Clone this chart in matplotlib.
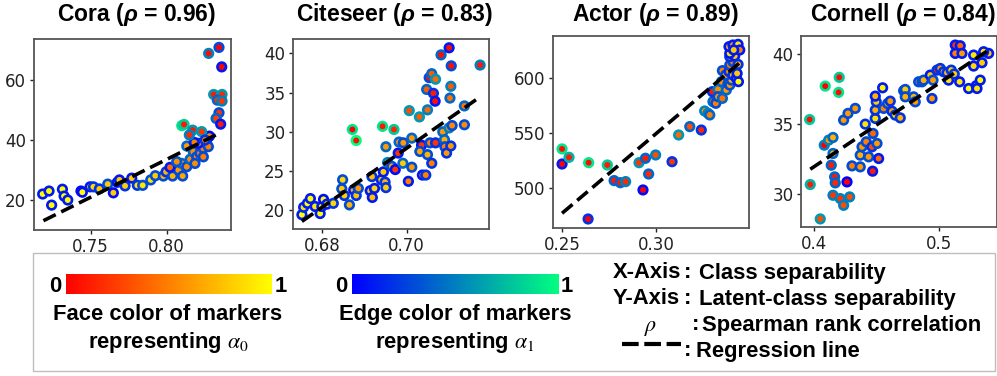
import matplotlib
matplotlib.use('Agg')
import matplotlib.pyplot as plt
import matplotlib.patches as mpatches
import matplotlib.lines as mlines
import numpy as np

plt.rcParams['mathtext.fontset'] = 'custom'
plt.rcParams['mathtext.it'] = 'Liberation Sans:bold:italic'
plt.rcParams['mathtext.rm'] = 'Liberation Sans:bold'
plt.rcParams['mathtext.bf'] = 'Liberation Sans:bold'

# ---------------- data ----------------
cora_x = [0.7184, 0.7226, 0.7243, 0.7314, 0.7325, 0.7349, 0.7436, 0.7445, 0.7496, 0.7518,
          0.7557, 0.7612, 0.7649, 0.7675, 0.7689, 0.7726, 0.7770, 0.7807, 0.7842, 0.7895,
          0.7925, 0.7978, 0.7996, 0.8039, 0.8077, 0.8105, 0.8099, 0.8132, 0.8154, 0.8175,
          0.8197, 0.8219, 0.8241, 0.8263, 0.8208, 0.8241, 0.8274, 0.8132, 0.8182, 0.8281,
          0.8099, 0.8114, 0.8171, 0.8230, 0.8149, 0.8309, 0.8364, 0.8333, 0.8364, 0.8344,
          0.8325, 0.8355, 0.8276, 0.8344, 0.8362, 0.8022, 0.8066, 0.8186, 0.8274, 0.8252]
cora_y = [22.0, 23.0, 18.3, 23.6, 21.3, 20.0, 23.0, 22.6, 24.4, 24.4,
          23.7, 25.3, 22.4, 25.9, 26.7, 24.7, 27.3, 24.9, 24.9, 26.7,
          28.1, 28.0, 29.4, 28.0, 30.0, 28.0, 32.2, 31.1, 33.6, 36.1,
          34.4, 35.6, 37.2, 38.9, 38.9, 34.4, 41.1, 38.0, 39.2, 41.3,
          44.8, 45.2, 43.3, 42.8, 41.7, 55.2, 55.2, 53.3, 53.0, 49.1,
          47.2, 45.3, 68.9, 70.9, 64.4, 30.9, 32.8, 32.2, 37.8, 40.0]
cora_a0 = [1, 1, 1, 1, 1, 1, 1, 1, 0.85, 0.85,
           0.8, 0.8, 0.8, 0.75, 0.8, 0.8, 0.8, 0.9, 0.9, 0.9,
           0.8, 0.7, 0.7, 0.7, 0.6, 0.65, 0.6, 0.55, 0.55, 0.55,
           0.5, 0.5, 0.5, 0.5, 0.5, 0.5, 0.45, 0.6, 0.5, 0.5,
           0.05, 0.1, 0.1, 0.2, 0.15, 0.1, 0.15, 0.2, 0.2, 0.2,
           0.25, 0.1, 0.05, 0.0, 0.0, 0.4, 0.55, 0.55, 0.5, 0.5]
cora_a1 = [0.1, 0.1, 0.1, 0.1, 0.1, 0.1, 0.05, 0.05, 0.1, 0.2,
           0.2, 0.3, 0.05, 0.1, 0.1, 0.2, 0.1, 0.2, 0.3, 0.3,
           0.3, 0.3, 0.2, 0.3, 0.3, 0.3, 0.4, 0.3, 0.4, 0.4,
           0.3, 0.3, 0.3, 0.2, 0.1, 0.3, 0.1, 0.4, 0.1, 0.05,
           0.9, 0.8, 0.6, 0.6, 0.5, 0.6, 0.6, 0.4, 0.5, 0.3,
           0.4, 0.1, 0.5, 0.3, 0.1, 0.1, 0.35, 0.3, 0.3, 0.2]
cora_fit_x = [0.7189, 0.8351]
cora_fit_y = [13.1, 42.4]

cite_x = [0.6753, 0.6757, 0.6766, 0.6773, 0.6784, 0.6796, 0.6800, 0.6804, 0.6812, 0.6827,
          0.6847, 0.6849, 0.6853, 0.6865, 0.6875, 0.6881, 0.6886, 0.6914, 0.6919, 0.6924,
          0.6918, 0.6940, 0.6945, 0.6949, 0.6951, 0.6955, 0.6951, 0.6965, 0.6973, 0.6980,
          0.6982, 0.6991, 0.6992, 0.7004, 0.7006, 0.7012, 0.7012, 0.7035, 0.7030, 0.7031,
          0.7037, 0.7045, 0.7047, 0.7049, 0.7049, 0.7053, 0.7059, 0.7055, 0.7059, 0.7063,
          0.7067, 0.7068, 0.7068, 0.7081, 0.7085, 0.7089, 0.7090, 0.7100, 0.7100, 0.7102,
          0.7104, 0.7105, 0.7094, 0.7104, 0.7107, 0.7136, 0.7136, 0.7173, 0.6872, 0.6881,
          0.6943, 0.6970]
cite_y = [19.45, 20.4, 20.9, 21.5, 20.5, 19.6, 20.5, 21.4, 20.8, 20.9,
          22.75, 23.9, 21.9, 20.7, 22.6, 21.9, 22.8, 22.5, 21.65, 22.8,
          24.3, 23.9, 24.9, 23.6, 22.9, 26.1, 28.1, 25.6, 25.2, 27.3,
          28.7, 26.0, 28.6, 23.7, 32.7, 25.5, 29.2, 28.3, 31.9, 27.5,
          24.5, 24.5, 35.4, 32.8, 27.1, 36.9, 37.4, 28.6, 26.0, 34.9,
          33.9, 36.7, 28.6, 39.8, 30.0, 29.0, 28.1, 40.7, 30.5, 34.3,
          35.8, 38.4, 27.3, 28.2, 30.8, 30.9, 33.3, 38.5, 30.3, 28.9,
          30.7, 30.3]
cite_a0 = [1, 0.9, 1, 1, 0.9, 1, 0.9, 1, 0.9, 0.85,
           0.8, 0.85, 0.8, 0.7, 0.7, 0.75, 0.6, 0.8, 0.75, 0.85,
           0.75, 0.8, 0.8, 0.7, 0.8, 0.7, 0.6, 0.65, 0.2, 0.2,
           0.6, 0.8, 0.6, 0.5, 0.3, 0.6, 0.6, 0.2, 0.35, 0.65,
           0.5, 0.5, 0.35, 0.4, 0.7, 0.05, 0.35, 0.5, 0.5, 0.1,
           0.05, 0.4, 0.2, 0.05, 0.6, 0.7, 0.5, 0.05, 0.6, 0.45,
           0.35, 0.05, 0.6, 0.6, 0.55, 0.55, 0.45, 0.1, 0.0, 0.05,
           0.1, 0.15]
cite_a1 = [0.1, 0.15, 0.1, 0.1, 0.1, 0.1, 0.1, 0.05, 0.1, 0.2,
           0.3, 0.3, 0.2, 0.3, 0.1, 0.2, 0.3, 0.1, 0.1, 0.1,
           0.2, 0.15, 0.1, 0.2, 0.2, 0.5, 0.4, 0.3, 0.05, 0.1,
           0.4, 0.4, 0.3, 0.1, 0.6, 0.3, 0.4, 0.1, 0.6, 0.3,
           0.1, 0.2, 0.4, 0.5, 0.3, 0.3, 0.4, 0.3, 0.2, 0.2,
           0.1, 0.6, 0.2, 0.4, 0.4, 0.4, 0.3, 0.1, 0.5, 0.4,
           0.5, 0.3, 0.2, 0.2, 0.3, 0.3, 0.4, 0.5, 0.9, 1.0,
           0.9, 0.8]
cite_fit_x = [0.6753, 0.7165]
cite_fit_y = [18.6, 34.15]

actor_x = [0.2500, 0.2500, 0.2537, 0.2638, 0.2641, 0.2740, 0.2776, 0.2809, 0.2837, 0.2908,
           0.2942, 0.2929, 0.2959, 0.2996, 0.3083, 0.3118, 0.3177, 0.3238, 0.3256, 0.3274,
           0.3283, 0.3300, 0.3315, 0.3318, 0.3297, 0.3336, 0.3327, 0.3345, 0.3327, 0.3350,
           0.3371, 0.3380, 0.3389, 0.3398, 0.3350, 0.3367, 0.3385, 0.3406, 0.3424, 0.3435,
           0.3389, 0.3406, 0.3389, 0.3415, 0.3389, 0.3385, 0.3406, 0.3433, 0.3442, 0.3428,
           0.3410, 0.3433]
actor_y = [535.2, 521.5, 527.6, 471.5, 522.7, 520.6, 506.4, 504.5, 505.5, 522.7,
           526.7, 497.9, 512.4, 529.7, 523.6, 547.9, 555.5, 552.4, 569.7, 567.6,
           566.1, 578.2, 576.7, 584.2, 587.3, 592.4, 589.4, 596.4, 582.7, 581.2,
           588.8, 594.8, 593.3, 597.9, 606.4, 602.4, 605.5, 602.4, 599.4, 596.4,
           611.5, 614.5, 619.1, 619.7, 622.1, 628.2, 629.7, 630.3, 625.2, 603.9,
           625.2, 612.1]
actor_a0 = [0.05, 0.0, 0.1, 0.0, 0.05, 0.1, 0.1, 0.1, 0.15, 0.2,
            0.1, 0.0, 0.15, 0.3, 0.2, 0.4, 0.3, 0.15, 0.55, 0.5,
            0.5, 0.5, 0.5, 0.5, 0.1, 0.4, 0.55, 0.55, 0.6, 0.45,
            0.6, 0.8, 0.6, 0.7, 0.5, 0.6, 0.55, 0.75, 0.8, 1.0,
            0.45, 0.5, 0.6, 0.8, 0.9, 0.7, 0.6, 0.9, 0.5, 0.8,
            0.8, 0.7]
actor_a1 = [0.9, 0.1, 0.7, 0.2, 0.9, 0.8, 0.4, 0.4, 0.5, 0.6,
            0.4, 0.05, 0.4, 0.5, 0.2, 0.6, 0.4, 0.2, 0.5, 0.5,
            0.4, 0.4, 0.3, 0.3, 0.2, 0.4, 0.5, 0.4, 0.3, 0.4,
            0.4, 0.3, 0.3, 0.3, 0.3, 0.3, 0.2, 0.2, 0.1, 0.1,
            0.3, 0.3, 0.2, 0.1, 0.1, 0.1, 0.1, 0.1, 0.1, 0.1,
            0.1, 0.2]
actor_fit_x = [0.2500, 0.3438]
actor_fit_y = [476.7, 613.0]

corn_x = [0.3968, 0.3973, 0.4053, 0.4093, 0.4205, 0.4200, 0.4085, 0.4141, 0.4168, 0.4173,
          0.4155, 0.4213, 0.4240, 0.4288, 0.4267, 0.4120, 0.4155, 0.4155, 0.4240, 0.4275,
          0.4333, 0.4307, 0.4373, 0.4373, 0.4387, 0.4413, 0.4421, 0.4440, 0.4467, 0.4475,
          0.4472, 0.4493, 0.4493, 0.4501, 0.4493, 0.4507, 0.4520, 0.4552, 0.4560, 0.4592,
          0.4613, 0.4627, 0.4653, 0.4693, 0.4720, 0.4733, 0.4733, 0.4800, 0.4813, 0.4840,
          0.4867, 0.4880, 0.4933, 0.4947, 0.4955, 0.4987, 0.5013, 0.5040, 0.5067, 0.5080,
          0.5101, 0.5125, 0.5133, 0.5173, 0.5133, 0.5187, 0.5168, 0.5240, 0.5280, 0.5280,
          0.5301, 0.5307, 0.5333, 0.5347, 0.5400, 0.5360]
corn_y = [35.32, 30.65, 28.18, 37.72, 38.35, 37.27, 33.48, 32.04, 31.20, 30.77,
          29.88, 29.64, 29.16, 29.76, 30.84, 33.84, 34.03, 32.88, 35.28, 35.76,
          36.12, 31.99, 31.92, 32.76, 33.36, 34.99, 33.72, 32.64, 33.36, 34.32,
          31.61, 35.40, 36.00, 36.59, 37.00, 33.60, 32.52, 37.60, 36.12, 36.47,
          36.64, 35.92, 35.64, 35.44, 37.39, 37.48, 36.95, 36.95, 36.59, 38.03,
          38.03, 38.15, 38.51, 36.83, 38.15, 38.87, 38.99, 38.75, 38.68, 38.15,
          38.87, 38.59, 40.67, 40.62, 40.07, 40.07, 38.03, 37.55, 39.95, 39.16,
          37.75, 37.55, 38.15, 39.40, 40.07, 40.19]
corn_a0 = [0.05, 0.1, 0.3, 0.0, 0.05, 0.05, 0.0, 0.1, 0.1, 0.15,
           0.2, 0.2, 0.3, 0.3, 0.0, 0.6, 0.7, 0.7, 0.6, 0.6,
           0.6, 0.5, 0.6, 0.7, 0.6, 0.9, 0.5, 0.6, 0.3, 0.4,
           0.1, 0.9, 0.7, 0.8, 0.7, 0.6, 0.4, 0.95, 0.5, 0.7,
           0.6, 0.6, 0.9, 0.7, 0.7, 0.8, 0.7, 0.7, 0.6, 0.5,
           0.4, 0.7, 0.8, 0.6, 0.6, 0.1, 0.6, 0.7, 0.7, 0.9,
           0.8, 0.8, 0.2, 0.4, 0.5, 0.6, 0.9, 1.0, 0.9, 0.85,
           1.0, 0.9, 1.0, 0.8, 0.8, 0.9]
corn_a1 = [0.8, 0.7, 0.6, 0.9, 0.8, 0.9, 0.5, 0.4, 0.4, 0.4,
           0.5, 0.5, 0.5, 0.5, 0.0, 0.5, 0.4, 0.4, 0.3, 0.3,
           0.3, 0.3, 0.3, 0.3, 0.3, 0.2, 0.3, 0.3, 0.2, 0.3,
           0.1, 0.2, 0.2, 0.2, 0.1, 0.3, 0.1, 0.1, 0.3, 0.3,
           0.2, 0.2, 0.2, 0.2, 0.3, 0.3, 0.3, 0.3, 0.3, 0.3,
           0.3, 0.3, 0.1, 0.2, 0.3, 0.2, 0.2, 0.2, 0.2, 0.1,
           0.2, 0.2, 0.1, 0.1, 0.1, 0.1, 0.1, 0.1, 0.1, 0.1,
           0.1, 0.1, 0.1, 0.1, 0.1, 0.1]
corn_fit_x = [0.3973, 0.5392]
corn_fit_y = [31.75, 40.26]

titles = [r'Cora ($\rho$ = 0.96)', r'Citeseer ($\rho$ = 0.83)',
          r'Actor ($\rho$ = 0.89)', r'Cornell ($\rho$ = 0.84)']
xtick_vals = [[0.75, 0.80], [0.68, 0.70], [0.25, 0.30], [0.4, 0.5]]
xtick_labels = [['0.75', '0.80'], ['0.68', '0.70'], ['0.25', '0.30'], ['0.4', '0.5']]
ytick_vals = [[20, 40, 60], [20, 25, 30, 35, 40], [500, 550, 600], [30, 35, 40]]
xlims = [(0.7127, 0.8423), (0.6732, 0.7194), (0.2452, 0.3491), (0.3899, 0.5467)]
ylims = [(10, 73.7), (17.63, 41.82), (463.3, 637.9), (27.6, 41.32)]

legend_axes = [('X-Axis', 'Class separability'),
               ('Y-Axis', 'Latent-class separability'),
               (r'$\rho$', 'Spearman rank correlation'),
               (None, 'Regression line')]

panels = [
    (cora_x, cora_y, cora_a0, cora_a1, cora_fit_x, cora_fit_y),
    (cite_x, cite_y, cite_a0, cite_a1, cite_fit_x, cite_fit_y),
    (actor_x, actor_y, actor_a0, actor_a1, actor_fit_x, actor_fit_y),
    (corn_x, corn_y, corn_a0, corn_a1, corn_fit_x, corn_fit_y),
]

# ---------------- figure ----------------
W, H = 997, 376
fig = plt.figure(figsize=(W / 100, H / 100), dpi=100)

def fx(px):
    return px / W

def fy(py):
    return 1 - py / H

ax_boxes = [(34, 39, 231, 230), (293, 39, 489, 229), (553, 36, 749, 228), (801, 36, 997, 227)]
face_cmap = plt.get_cmap('autumn')
edge_cmap = plt.get_cmap('winter')

for i, (box, data) in enumerate(zip(ax_boxes, panels)):
    l, t, r, b = box
    ax = fig.add_axes([fx(l), fy(b), (r - l) / W, (b - t) / H])
    x, y, a0, a1, fitx, fity = data
    ax.scatter(x, y, c=a0, cmap=face_cmap, vmin=0, vmax=1,
               edgecolors=edge_cmap(np.asarray(a1)), s=38, linewidths=1.9, zorder=2)
    ax.plot(fitx, fity, color='black', linestyle=(0, (3.8, 1.7)), linewidth=2.6, zorder=3)
    ax.set_xlim(*xlims[i])
    ax.set_ylim(*ylims[i])
    ax.set_xticks(xtick_vals[i])
    ax.set_xticklabels(xtick_labels[i])
    ax.set_yticks(ytick_vals[i])
    ax.tick_params(labelsize=12, length=3, width=1, pad=2.5, colors='#222222')
    for sp in ax.spines.values():
        sp.set_color('#555555')
        sp.set_linewidth(1.3)
    fig.text(fx((l + r) / 2 + 4), fy(15), titles[i], ha='center', va='center',
             fontsize=16.5, fontweight='bold', family='Liberation Sans')

# ---------------- legend box ----------------
fig.patches.append(mpatches.Rectangle((fx(33), fy(371)), (995 - 33) / W, (371 - 253) / H,
                                      transform=fig.transFigure, fill=False,
                                      edgecolor='#bdbdbd', linewidth=1.0))

lt = dict(fontsize=15.8, fontweight='bold', family='Liberation Sans')

grad = np.linspace(0, 1, 256).reshape(1, -1)
for (x0, x1, cmap) in [(66, 272, face_cmap), (352, 558, edge_cmap)]:
    cax = fig.add_axes([fx(x0), fy(294), (x1 - x0) / W, 20 / H])
    cax.imshow(grad, aspect='auto', cmap=cmap)
    cax.set_axis_off()
    fig.text(fx(x0 - 11), fy(292.5), '0', ha='center', va='baseline', **lt)
    fig.text(fx(x1 + 9), fy(292.5), '1', ha='center', va='baseline', **lt)

fig.text(fx(168), fy(320), 'Face color of markers', ha='center', va='baseline', **lt)
fig.text(fx(168), fy(348), r'representing $\alpha_0$', ha='center', va='baseline',
         math_fontfamily='stix', **lt)
fig.text(fx(455), fy(320), 'Edge color of markers', ha='center', va='baseline', **lt)
fig.text(fx(455), fy(348), r'representing $\alpha_1$', ha='center', va='baseline',
         math_fontfamily='stix', **lt)

baselines = [278.5, 304.5, 330.5, 356.5]
colon_x = [688, 688, 696, 688]
desc_x = [699, 699, 702, 696]
for (lab, desc), yb, cx, dx in zip(legend_axes, baselines, colon_x, desc_x):
    if lab is not None and lab.startswith('$'):
        fig.text(fx(651), fy(yb), lab, ha='center', va='baseline', math_fontfamily='stix', **lt)
    elif lab is not None:
        fig.text(fx(613), fy(yb), lab, ha='left', va='baseline', **lt)
    else:
        fig.add_artist(mlines.Line2D([fx(622), fx(681)], [fy(yb - 12.5), fy(yb - 12.5)],
                                     transform=fig.transFigure, color='black',
                                     linewidth=3.0, linestyle=(0, (4.0, 1.35))))
    fig.text(fx(cx), fy(yb), ':', ha='center', va='baseline', **lt)
    fig.text(fx(dx), fy(yb), desc, ha='left', va='baseline', **lt)

fig.savefig('out.png', dpi=100)
